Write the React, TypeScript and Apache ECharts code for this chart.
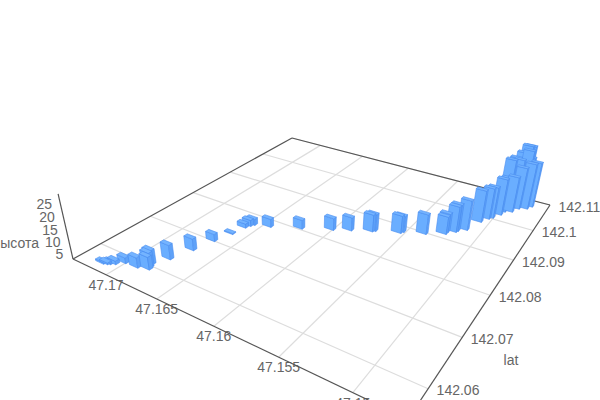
import React, { useEffect, useRef } from "react";
import * as echarts from "echarts";

const lonValues = [47.17162,47.17133,47.17115,47.17084,47.17034,47.16919,47.16833,47.16846,47.16863,47.16802,47.16746,47.16701,47.16653,47.1663,47.16613,47.16596,47.1647,47.16247,47.1603,47.15907,47.15761,47.15744,47.15565,47.15552,47.15394,47.15263,47.15262,47.15209,47.15201,47.15147,47.15099,47.15062,47.1504,47.15002,47.14991,47.14941,47.14909,47.14852,47.14827,47.14999,47.14976,47.14946,47.14942,47.14882,47.14939,47.14911,47.14895,47.14897];
const latValues = [142.0569,142.05713,142.05737,142.05777,142.05874,142.05891,142.05948,142.05991,142.06061,142.06297,142.0666,142.07025,142.07335,142.07597,142.07683,142.07743,142.07834,142.08063,142.08301,142.08444,142.08601,142.0864,142.08803,142.08856,142.08992,142.09165,142.09239,142.09309,142.09355,142.09463,142.09829,142.09995,142.10063,142.10234,142.10371,142.10435,142.10603,142.10678,142.10795,142.10526,142.10598,142.1068,142.10601,142.10765,142.10689,142.10727,142.10783,142.10739];
const heightValues = [3.4,3.4,3.6,4.2,5.1,7.0,8.0,8.8,8.6,8.8,7.7,5.8,3.1,4.5,5.4,5.4,6.3,6.6,7.9,8.5,10.1,10.1,10.3,9.8,11.3,10.3,10.7,13.8,14.2,15.6,16.6,16.3,16.3,18.6,17.8,18.3,21.1,22.8,22.5,24.2,24.7,23.4,24.2,24.3,26.5,29.4,28.9,27.4];

const lonTicks = [47.17, 47.165, 47.16, 47.155, 47.15];
const latTicks = [142.06, 142.07, 142.08, 142.09, 142.1, 142.11];
const heightTicks = [5, 10, 15, 20, 25];

const lonMax = 47.1736, lonMin = 47.1467;
const latMin = 142.055, latMax = 142.11;
const hMin = 2.7, hMax = 29;

// perspective of the box floor and of the vertical direction
const view = { a: 216.3, b: 352.9, c: 73, d: 38.1, e: -57.7, f: 259, g: -0.291, h: 0.4586, k: -0.0616, vx: 300, vy: 1250 };

function project(lon: number, lat: number, z: number): number[] {
  const s = (lonMax - lon) / (lonMax - lonMin);
  const t = (lat - latMin) / (latMax - latMin);
  const w = ((z - hMin) / (hMax - hMin)) * view.k;
  const W = view.g * s + view.h * t + 1 + w;
  return [
    (view.a * s + view.b * t + view.c + w * view.vx) / W,
    (view.d * s + view.e * t + view.f + w * view.vy) / W,
  ];
}
function depth(lon: number, lat: number): number {
  const s = (lonMax - lon) / (lonMax - lonMin);
  const t = (lat - latMin) / (latMax - latMin);
  return view.g * s + view.h * t + 1;
}

const halfLon = 0.00043, halfLat = 0.00036;
const FONT = "Arial, 'Liberation Sans', sans-serif";
const axisColor = "#555";
const gridColor = "#ddd";
const textColor = "#666";

function segment(p: number[], q: number[], stroke: string, lineWidth: number) {
  return { type: "line", shape: { x1: p[0], y1: p[1], x2: q[0], y2: q[1] }, style: { stroke, lineWidth }, silent: true };
}
function label(text: string, x: number, y: number, align: string) {
  return { type: "text", style: { text, x, y, align, verticalAlign: "middle", fill: textColor, fontSize: 14, fontFamily: FONT }, silent: true };
}

const barData = lonValues
  .map((lon, i) => [lon, latValues[i], heightValues[i]])
  .sort((p, q) => depth(q[0], q[1]) - depth(p[0], p[1]));

export default function App() {
  const ref = useRef<HTMLDivElement>(null);
  useEffect(() => {
    document.body.style.margin = "0";
    const chart = echarts.init(ref.current!, undefined, { renderer: "svg" });
    chart.setOption({
      animation: false,
      backgroundColor: "#fff",
      series: [
        {
          type: "custom", coordinateSystem: "none", silent: true, z: 1, clip: false,
          data: lonTicks.map((v) => [v]),
          renderItem: (_p: any, api: any) => {
            const v = api.value(0);
            return { type: "group", children: [
              segment(project(v, latMin, hMin), project(v, latMax, hMin), gridColor, 1.2),
              (() => { const q = project(v, latMin, hMin); return label(String(v), q[0], q[1] + 10, "center"); })(),
            ] };
          },
        },
        {
          type: "custom", coordinateSystem: "none", silent: true, z: 1, clip: false,
          data: latTicks.map((v) => [v]),
          renderItem: (_p: any, api: any) => {
            const v = api.value(0);
            return { type: "group", children: [
              segment(project(lonMax, v, hMin), project(lonMin, v, hMin), gridColor, 1.2),
              (() => { const q = project(lonMin, v, hMin); return label(String(v), q[0] + 8.5, q[1] + 1.5, "left"); })(),
            ] };
          },
        },
        {
          type: "custom", coordinateSystem: "none", silent: true, z: 2, clip: false,
          data: heightTicks.map((v) => [v]),
          renderItem: (_p: any, api: any) => {
            const v = api.value(0);
            const q = project(lonMax, latMin, v);
            return label(String(v), q[0] - 8.5, q[1], "right");
          },
        },
        {
          type: "custom", coordinateSystem: "none", silent: true, z: 2, clip: false,
          data: [[0]],
          renderItem: () => {
            const A = project(lonMax, latMin, hMin), B = project(lonMax, latMax, hMin);
            const C = project(lonMin, latMax, hMin), D = project(lonMin, latMin, hMin);
            const T = project(lonMax, latMin, hMax);
            return { type: "group", children: [
              segment(A, B, axisColor, 1.2), segment(B, C, axisColor, 1.2), segment(C, D, axisColor, 1.2),
              segment(D, A, axisColor, 1.2), segment(A, T, axisColor, 1.2),
              label("высота", 39, 243, "right"),
              label("lat", 511, 360, "center"),
            ] };
          },
        },
        {
          type: "custom", coordinateSystem: "none", silent: true, z: 3, clip: false,
          data: barData,
          renderItem: (_p: any, api: any) => {
            const lon = api.value(0), lat = api.value(1), h = api.value(2);
            const l0 = lon + halfLon, l1 = lon - halfLon, a0 = lat - halfLat, a1 = lat + halfLat;
            const b1 = project(l0, a0, hMin), b2 = project(l1, a0, hMin), b3 = project(l1, a1, hMin);
            const t1 = project(l0, a0, h), t2 = project(l1, a0, h), t3 = project(l1, a1, h), t4 = project(l0, a1, h);
            const edge = { stroke: "#4a8df0", lineWidth: 0.6, lineJoin: "round" };
            return { type: "group", children: [
              { type: "polygon", shape: { points: [b1, b2, t2, t1] }, style: { fill: "#6aaeff", ...edge } },
              { type: "polygon", shape: { points: [b2, b3, t3, t2] }, style: { fill: "#5fa2f8", ...edge } },
              { type: "polygon", shape: { points: [t1, t2, t3, t4] }, style: { fill: "#74b4ff", ...edge } },
            ] };
          },
        },
      ],
    });
    return () => chart.dispose();
  }, []);
  return <div ref={ref} style={{ width: 600, height: 400, position: "absolute", left: 0, top: 0 }} />;
}
